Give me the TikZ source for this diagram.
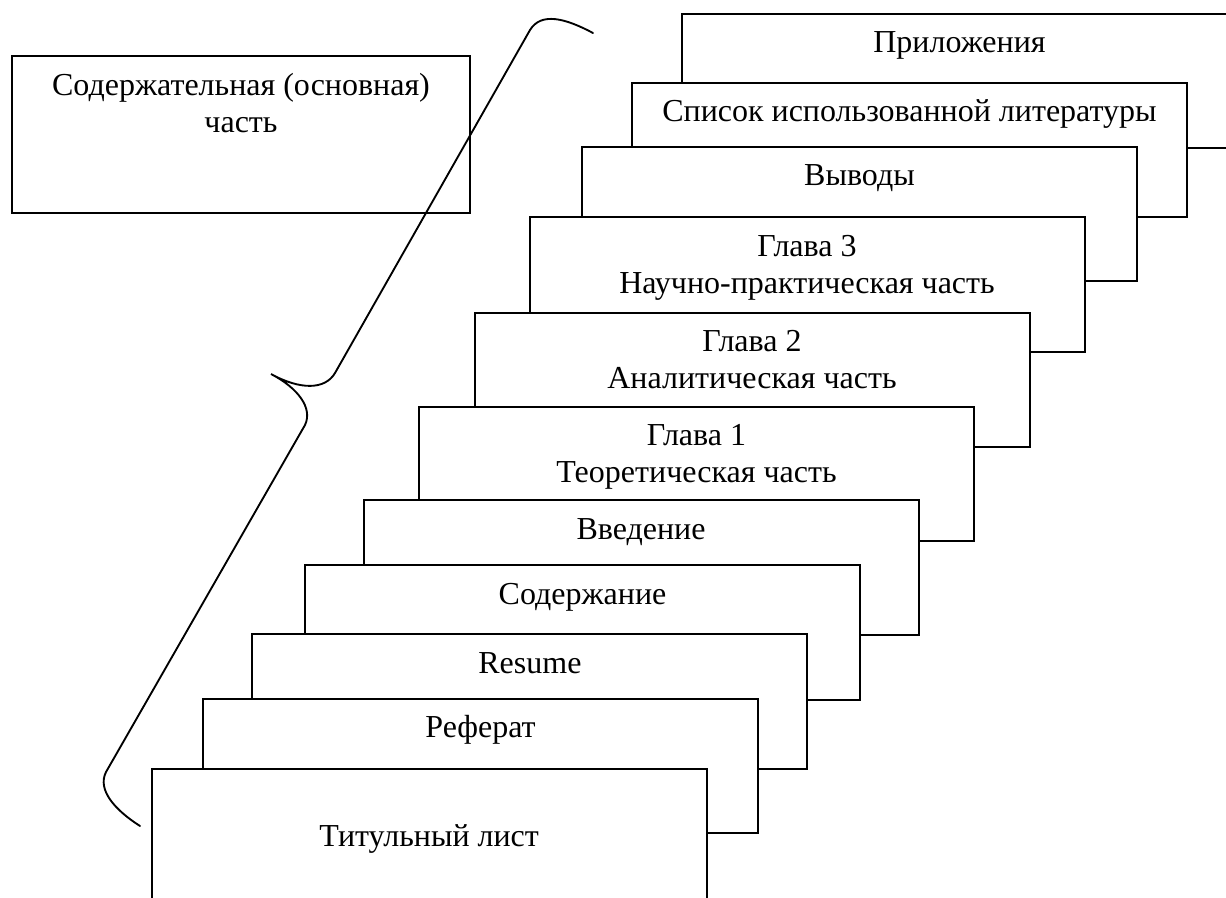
\documentclass[tikz,border=0pt]{standalone}
\usepackage{fontspec}
\setmainfont{Liberation Serif}
\begin{document}
\begin{tikzpicture}[x=0.75pt,y=-0.75pt,
  card/.style={draw=black, fill=white, line width=1.5pt, rectangle, anchor=north west,
    minimum width=416.25pt, minimum height=100.875pt, inner sep=0pt},
  mainbox/.style={draw=black, line width=1.5pt, rectangle, anchor=north west,
    minimum width=343.5pt, minimum height=117.5pt, inner sep=0pt},
  lbl/.style={font=\fontsize{24}{27.75}\selectfont, inner sep=0pt, anchor=base},
  bracket/.style={draw=black, line width=1.4pt, line cap=round}]
\useasboundingbox (0,0) rectangle (1226,897);
\clip (0,0) rectangle (1226,897);

% left box
\node[mainbox] (main) at (11,55) {};
\node[lbl] (maintext) at ([yshift=-30pt]main.north)
  {\begin{tabular}[t]{@{}c@{}}Содержательная (основная)\\часть\end{tabular}};

% brace
\coordinate (bA) at (593,33);
\coordinate (bB) at (530,30);
\coordinate (bC) at (335,373);
\coordinate (bTip) at (271,374);
\coordinate (bD) at (305,425);
\coordinate (bE) at (106,772);
\coordinate (bF) at (140,826);
\draw[bracket] (bA) .. controls (565,18) and (541,12) .. (bB) -- (bC)
  .. controls (325,390) and (300,390) .. (bTip)
  .. controls (298,388) and (313,408) .. (bD) -- (bE)
  .. controls (97,790) and (115,810) .. (bF);

% cards, back to front
\node[card] (app) at (681,12.7) {};
\node[lbl] (tapp) at ([yshift=-30pt]app.north) {Приложения};

\node[card] (lit) at (631,81.7) {};
\node[lbl] (tlit) at ([yshift=-30pt]lit.north) {Список использованной литературы};

\node[card] (vyv) at (581,145.7) {};
\node[lbl] (tvyv) at ([yshift=-30pt]vyv.north) {Выводы};

\node[card] (g3) at (528.5,216) {};
\node[lbl] (tg3) at ([yshift=-30pt]g3.north)
  {\begin{tabular}[t]{@{}c@{}}Глава 3\\Научно-практическая часть\end{tabular}};

\node[card] (g2) at (473.5,311.7) {};
\node[lbl] (tg2) at ([yshift=-30pt]g2.north)
  {\begin{tabular}[t]{@{}c@{}}Глава 2\\Аналитическая часть\end{tabular}};

\node[card] (g1) at (418,405.7) {};
\node[lbl] (tg1) at ([yshift=-30pt]g1.north)
  {\begin{tabular}[t]{@{}c@{}}Глава 1\\Теоретическая часть\end{tabular}};

\node[card] (vved) at (362.5,499) {};
\node[lbl] (tvved) at ([yshift=-30pt]vved.north) {Введение};

\node[card] (sod) at (304,564) {};
\node[lbl] (tsod) at ([yshift=-30pt]sod.north) {Содержание};

\node[card] (res) at (251.4,633) {};
\node[lbl] (tres) at ([yshift=-30pt]res.north) {Resume};

\node[card] (ref) at (202,697.7) {};
\node[lbl] (tref) at ([yshift=-30pt]ref.north) {Реферат};

\node[card] (tit) at (150.6,768) {};
\node[lbl] (ttit) at ([yshift=-58.5pt]tit.north) {Титульный лист};
\end{tikzpicture}
\end{document}
